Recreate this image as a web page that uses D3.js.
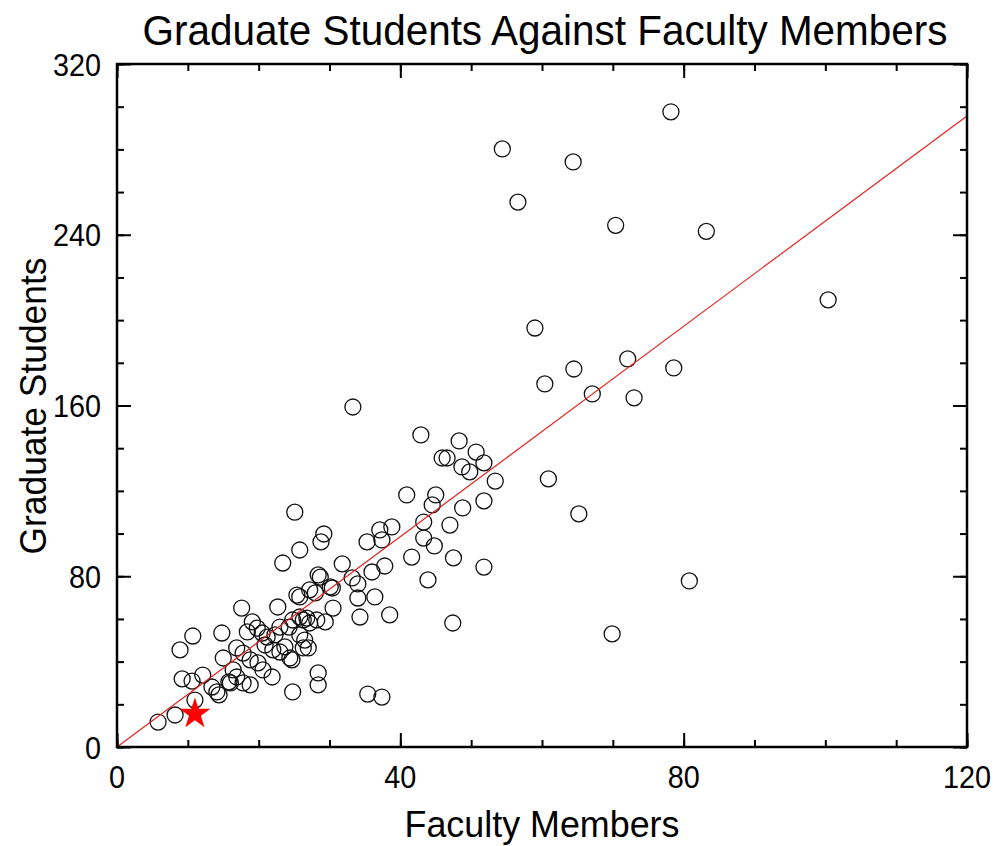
<!DOCTYPE html>
<html>
<head>
<meta charset="utf-8">
<script src="https://cdn.jsdelivr.net/npm/d3@7"></script>
<style>
  body { margin: 0; background: #fff; }
  text { font-family: "Liberation Sans", Arial, sans-serif; fill: #000; }
</style>
</head>
<body>
<div id="chart"></div>
<script>
// faculty members (x) and graduate students (y)
var faculty = [78.2, 54.4, 64.4, 56.6, 70.4, 83.2, 100.4, 59.0, 72.1, 64.5, 78.6, 60.4, 67.1, 73.0, 33.3,
  42.9, 48.3, 45.9, 46.6, 50.7, 48.7, 49.8, 51.8, 53.4, 60.9, 40.9, 45.0, 44.5, 51.8, 48.8, 65.2, 25.1,
  47.0, 43.3, 43.3, 44.8, 38.8, 37.1, 37.4, 35.3, 29.2, 28.8, 25.8, 23.4, 31.8, 41.6, 47.5, 51.8, 43.9,
  36.0, 37.8, 33.2, 34.0, 28.4, 28.7, 30.1, 30.4, 27.2, 28.0, 25.4, 25.8, 34.0, 36.4, 22.7, 30.5, 17.6,
  34.3, 38.5, 47.4, 19.1, 19.8, 20.5, 14.8, 10.7, 24.8, 25.8, 26.3, 26.8, 27.2, 28.2, 29.4, 23.0, 24.3,
  18.4, 21.2, 22.3, 25.8, 26.5, 26.3, 27.0, 23.7, 23.0, 24.4, 24.7, 22.0, 20.9, 16.9, 17.8, 18.8, 19.9,
  20.6, 21.9, 16.4, 16.9, 17.8, 18.8, 28.4, 28.4, 24.8, 35.4, 37.4, 69.9, 80.8, 8.9, 15.0, 9.2, 10.6,
  12.1, 13.4, 14.1, 14.4, 15.8, 16.0, 11.0, 8.2, 5.8];
var students = [297.6, 280.2, 274.1, 255.3, 244.4, 241.6, 209.5, 196.3, 181.8, 177.1, 177.6, 170.1, 165.4, 163.6, 159.3,
  146.2, 143.4, 135.4, 135.4, 138.2, 131.2, 128.9, 133.1, 124.6, 125.6, 118.1, 118.1, 113.4, 115.3, 112.0, 109.2, 110.0,
  104.0, 105.4, 97.9, 94.2, 103.1, 101.7, 97.0, 96.1, 99.8, 96.1, 92.3, 86.2, 85.8, 89.0, 88.6, 84.3, 78.3,
  82.0, 84.8, 79.2, 76.4, 80.6, 79.6, 75.0, 74.5, 73.6, 72.2, 71.2, 70.3, 69.8, 70.3, 65.6, 65.1, 65.1,
  60.9, 61.9, 58.1, 58.6, 55.7, 53.4, 53.4, 52.0, 59.5, 60.9, 59.5, 60.4, 58.1, 59.5, 58.6, 56.2, 56.2,
  53.9, 51.5, 52.5, 52.5, 50.1, 46.4, 46.4, 46.9, 44.5, 41.7, 40.8, 45.5, 47.8, 46.4, 44.0, 40.8, 39.4,
  36.1, 32.8, 36.1, 32.8, 30.0, 29.1, 34.7, 29.1, 25.8, 24.8, 23.4, 53.0, 77.8, 45.5, 41.7, 31.9, 30.9,
  33.7, 28.1, 25.8, 24.4, 30.5, 30.0, 22.0, 15.0, 11.7];

// highlighted point and fitted line through the origin
var highlight = [11.0, 15.5];
var fitSlope = 2.464;

var xTicks = [0, 40, 80, 120];
var yTicks = [0, 80, 160, 240, 320];

var width = 995, height = 846;
var margin = {top: 64, right: 28, bottom: 99, left: 117};

var svg = d3.select("#chart").append("svg")
  .attr("width", width)
  .attr("height", height);

var x = d3.scaleLinear().domain([0, 120]).range([margin.left, width - margin.right]);
var y = d3.scaleLinear().domain([0, 320]).range([height - margin.bottom, margin.top]);

var plot = svg.append("g");

// clip for marks
svg.append("clipPath").attr("id", "clip")
  .append("rect")
    .attr("x", x(0)).attr("y", y(320))
    .attr("width", x(120) - x(0)).attr("height", y(0) - y(320));

// points
var pts = faculty.map(function(d, i) { return [d, students[i]]; });
plot.selectAll(".pt")
  .data(pts)
  .enter().append("circle")
    .attr("class", "pt")
    .attr("cx", function(d) { return x(d[0]); })
    .attr("cy", function(d) { return y(d[1]); })
    .attr("r", 8)
    .attr("fill", "none")
    .attr("stroke", "#111")
    .attr("stroke-width", 1.3);

// fit line
plot.append("line")
  .attr("clip-path", "url(#clip)")
  .attr("x1", x(0)).attr("y1", y(0))
  .attr("x2", x(120)).attr("y2", y(120 * fitSlope))
  .attr("stroke", "#e0201e")
  .attr("stroke-width", 1.2);

// star
plot.append("path")
  .attr("d", d3.symbol().type(d3.symbolStar).size(300)())
  .attr("transform", "translate(" + x(highlight[0]) + "," + y(highlight[1]) + ")")
  .attr("fill", "#ff0000");

// axes: ticks point inward on all four sides
function minor(step, max) { return d3.range(0, max + 0.001, step); }

svg.append("g").attr("transform", "translate(0," + y(0) + ")")
  .call(d3.axisTop(x).tickValues(minor(10, 120)).tickSize(7).tickFormat(""));
svg.append("g").attr("transform", "translate(0," + y(0) + ")")
  .call(d3.axisTop(x).tickValues(xTicks).tickSize(14).tickFormat(""));
svg.append("g").attr("transform", "translate(0," + y(320) + ")")
  .call(d3.axisBottom(x).tickValues(minor(10, 120)).tickSize(7).tickFormat(""));
svg.append("g").attr("transform", "translate(0," + y(320) + ")")
  .call(d3.axisBottom(x).tickValues(xTicks).tickSize(14).tickFormat(""));
svg.append("g").attr("transform", "translate(" + x(0) + ",0)")
  .call(d3.axisRight(y).tickValues(minor(20, 320)).tickSize(7).tickFormat(""));
svg.append("g").attr("transform", "translate(" + x(0) + ",0)")
  .call(d3.axisRight(y).tickValues(yTicks).tickSize(14).tickFormat(""));
svg.append("g").attr("transform", "translate(" + x(120) + ",0)")
  .call(d3.axisLeft(y).tickValues(minor(20, 320)).tickSize(7).tickFormat(""));
svg.append("g").attr("transform", "translate(" + x(120) + ",0)")
  .call(d3.axisLeft(y).tickValues(yTicks).tickSize(14).tickFormat(""));

svg.selectAll(".domain").remove();
svg.selectAll(".tick line").attr("stroke", "#000").attr("stroke-width", 2);

// frame
svg.append("rect")
  .attr("x", x(0)).attr("y", y(320))
  .attr("width", x(120) - x(0)).attr("height", y(0) - y(320))
  .attr("fill", "none")
  .attr("stroke", "#000")
  .attr("stroke-width", 2.5);

// tick labels (slightly condensed like the original)
svg.selectAll(".xlab")
  .data(xTicks)
  .enter().append("text")
    .attr("x", function(d) { return x(d); })
    .attr("y", y(0) + 41)
    .attr("text-anchor", "middle")
    .attr("font-size", 32)
    .attr("textLength", function(d) { return String(d).length * 16; })
    .attr("lengthAdjust", "spacingAndGlyphs")
    .text(function(d) { return d; });

svg.selectAll(".ylab")
  .data(yTicks)
  .enter().append("text")
    .attr("x", x(0) - 16)
    .attr("y", function(d) { return y(d); })
    .attr("dy", "0.36em")
    .attr("text-anchor", "end")
    .attr("font-size", 32)
    .attr("textLength", function(d) { return String(d).length * 16; })
    .attr("lengthAdjust", "spacingAndGlyphs")
    .text(function(d) { return d; });

// titles
svg.append("text")
  .attr("x", 545).attr("y", 45)
  .attr("text-anchor", "middle")
  .attr("font-size", 42)
  .attr("textLength", 805)
  .attr("lengthAdjust", "spacingAndGlyphs")
  .text("Graduate Students Against Faculty Members");

svg.append("text")
  .attr("x", 542).attr("y", 837)
  .attr("text-anchor", "middle")
  .attr("font-size", 36)
  .attr("textLength", 275)
  .attr("lengthAdjust", "spacingAndGlyphs")
  .text("Faculty Members");

svg.append("text")
  .attr("transform", "translate(46,406) rotate(-90)")
  .attr("text-anchor", "middle")
  .attr("font-size", 37)
  .attr("textLength", 297)
  .attr("lengthAdjust", "spacingAndGlyphs")
  .text("Graduate Students");
</script>
</body>
</html>
